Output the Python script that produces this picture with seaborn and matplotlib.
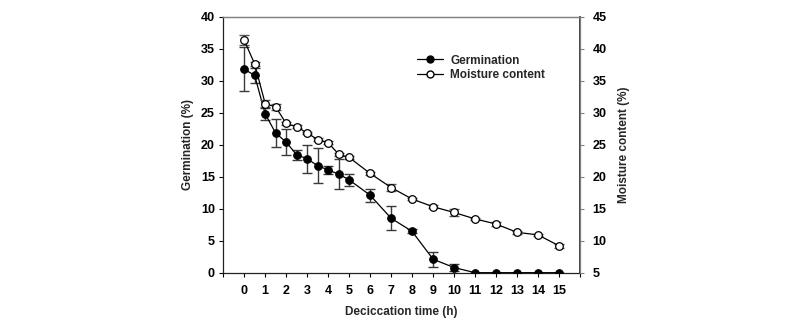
import matplotlib
matplotlib.use("Agg")
import matplotlib.pyplot as plt
import seaborn as sns
import pandas as pd
from matplotlib.lines import Line2D

time_h = [0, 0.5, 1, 1.5, 2, 2.5, 3, 3.5, 4, 4.5, 5, 6, 7, 8, 9, 10, 11, 12, 13, 14, 15]
germination = [31.8, 30.8, 24.8, 21.8, 20.4, 18.4, 17.8, 16.7, 16.05, 15.4, 14.5, 12.1,
               8.5, 6.45, 2.1, 0.8, 0, 0, 0, 0, 0]
germination_err = [3.4, 1.1, 0.9, 2.2, 2.0, 0.8, 2.2, 2.7, 0.65, 2.4, 0.9, 1.0,
                   1.85, 0.3, 1.2, 0.6, 0, 0, 0, 0, 0]
moisture = [41.3, 37.6, 31.4, 30.9, 28.3, 27.8, 26.8, 25.8, 25.3, 23.5, 23.0, 20.5,
            18.3, 16.5, 15.3, 14.4, 13.4, 12.6, 11.3, 10.9, 9.2]
moisture_err = [0.8, 0.3, 0.5, 0.5, 0.3, 0.2, 0.2, 0.2, 0.2, 0.2, 0.2, 0.2,
                0.5, 0.2, 0.2, 0.5, 0.2, 0.3, 0.2, 0.2, 0.3]
x_ticks = list(range(-1, 17))
x_tick_labels = [""] + [str(i) for i in range(16)] + [""]

df = pd.DataFrame({"time": time_h, "germ": germination, "germ_err": germination_err,
                   "moist": moisture, "moist_err": moisture_err})

sns.set_theme(style="ticks")
plt.rcParams['font.family'] = ['Liberation Sans', 'DejaVu Sans']
plt.rcParams['font.weight'] = 'bold'
plt.rcParams['axes.labelweight'] = 'bold'

fig = plt.figure(figsize=(8, 3.25), dpi=100)
ax = fig.add_axes([0.279, 0.161, 0.446, 0.788])
ax2 = ax.twinx()

ecol = "#3a3a3a"
ax.errorbar(df["time"], df["germ"], yerr=df["germ_err"], fmt="none", ecolor=ecol,
            elinewidth=1.0, capsize=3.5, capthick=1.0, zorder=1)
sns.lineplot(data=df, x="time", y="germ", ax=ax, color="black", linewidth=0.9,
             marker="o", markersize=5.5, markerfacecolor="black", markeredgecolor="black",
             zorder=3)

ax2.errorbar(df["time"], df["moist"], yerr=df["moist_err"], fmt="none", ecolor="#555555",
             elinewidth=1.0, capsize=3.5, capthick=1.0, zorder=1)
sns.lineplot(data=df, x="time", y="moist", ax=ax2, color="black", linewidth=0.9,
             marker="o", markersize=5.5, markerfacecolor="white", markeredgecolor="black",
             markeredgewidth=0.9, zorder=3)

ax.set_xlim(-1, 16)
ax.set_ylim(0, 40)
ax2.set_ylim(5, 45)
ax.set_xticks(x_ticks)
ax.set_xticklabels(x_tick_labels)
ax.set_yticks(range(0, 41, 5))
ax2.set_yticks(range(5, 46, 5))

ax.set_xlabel("Deciccation time (h)", fontsize=8.5, fontweight="bold", labelpad=6)
ax.set_ylabel("Germination (%)", fontsize=8.5, fontweight="bold", labelpad=5)
ax2.set_ylabel("Moisture content (%)", fontsize=8.5, fontweight="bold", labelpad=8)

ax.tick_params(axis="x", length=3, width=0.8, pad=6, labelsize=9, colors="black")
ax.tick_params(axis="y", length=3, width=0.8, pad=3, labelsize=9, colors="black")
ax2.tick_params(axis="y", length=3, width=0.8, pad=6, labelsize=9, color="#808080",
                labelcolor="black")
for lab in ax.get_xticklabels() + ax.get_yticklabels() + ax2.get_yticklabels():
    lab.set_fontweight("bold")

for sp in ["left", "bottom"]:
    ax.spines[sp].set_color("#222222")
    ax.spines[sp].set_linewidth(0.9)
for a in (ax, ax2):
    a.spines["top"].set_visible(True)
    a.spines["top"].set_color("#808080")
    a.spines["top"].set_linewidth(0.9)
ax2.spines["right"].set_color("#808080")
ax2.spines["right"].set_linewidth(0.9)
ax2.spines["left"].set_visible(False)
ax2.spines["bottom"].set_visible(False)

handles = [
    Line2D([0], [0], color="black", lw=0.9, marker="o", markersize=5,
           markerfacecolor="black", markeredgecolor="black"),
    Line2D([0], [0], color="black", lw=0.9, marker="o", markersize=5,
           markerfacecolor="white", markeredgecolor="black"),
]
leg = ax2.legend(handles, ["Germination", "Moisture content"], loc="upper left",
                 bbox_to_anchor=(0.53, 0.87), frameon=False, fontsize=8.5,
                 handlelength=2.2, handletextpad=0.6, labelspacing=0.2,
                 borderaxespad=0)
for t in leg.get_texts():
    t.set_fontweight("bold")

fig.savefig("out.png", dpi=100)
